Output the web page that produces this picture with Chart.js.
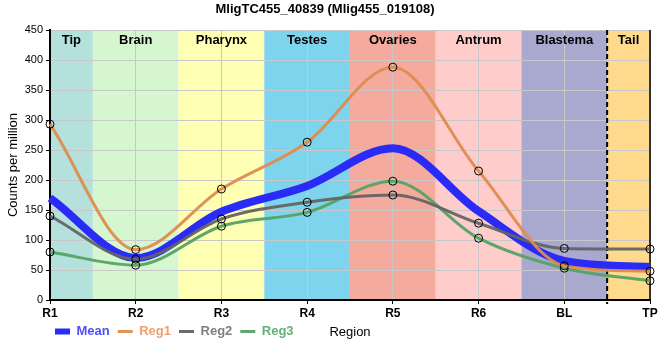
<!DOCTYPE html>
<html>
<head>
<meta charset="utf-8">
<script src="https://cdn.jsdelivr.net/npm/chart.js@4.4.1/dist/chart.umd.min.js"></script>
<style>
  html, body { margin: 0; padding: 0; background: #fff; }
</style>
</head>
<body>
<canvas id="myChart" width="660" height="360"></canvas>
<script>
/* DATOS DEL GRAFICO */
const regiones = ['R1', 'R2', 'R3', 'R4', 'R5', 'R6', 'BL', 'TP'];
const mean = [170, 70, 147, 190, 253, 148, 65, 55];
const reg1 = [293, 84, 185, 263, 388, 215, 57, 48];
const reg2 = [140, 68, 135, 163, 175, 128, 86, 85];
const reg3 = [80, 58, 123, 146, 198, 103, 53, 32];

/* BANDAS DE TEJIDO */
const tejidos = ['Tip', 'Brain', 'Pharynx', 'Testes', 'Ovaries', 'Antrum', 'Blastema', 'Tail'];
const tejidosColor = ['#b4e1dc', '#d6f6d0', '#ffffb4', '#7ed4ec', '#f5aa9e', '#ffcccc', '#a9a8ce', '#ffda8c'];

const legendColors = ['#4d4dff', '#eea06c', '#808080', '#62b07a'];

Chart.defaults.font.family = '"Liberation Sans", Arial, sans-serif';
Chart.defaults.color = '#000';

const bandas = {
  id: 'bandas',
  afterLayout(chart) {
    // subir la leyenda a la misma fila que el titulo del eje x
    chart.legend.top -= 7;
    chart.legend.bottom -= 7;
    chart.legend.left -= 3;
  },
  beforeDraw(chart) {
    const { ctx, chartArea } = chart;
    const x = chart.scales.x;
    ctx.save();
    tejidos.forEach((t, i) => {
      const x0 = x.getPixelForValue(Math.max(i - 0.5, 0));
      const x1 = x.getPixelForValue(Math.min(i + 0.5, regiones.length - 1));
      ctx.fillStyle = tejidosColor[i];
      ctx.fillRect(x0, chartArea.top, x1 - x0, chartArea.bottom - chartArea.top);
    });
    ctx.restore();
  },
  beforeDatasetsDraw(chart) {
    const { ctx, chartArea } = chart;
    const x = chart.scales.x;
    ctx.save();
    // etiquetas de las bandas
    ctx.font = 'bold 13px "Liberation Sans", Arial, sans-serif';
    ctx.fillStyle = '#000';
    ctx.textAlign = 'center';
    ctx.textBaseline = 'middle';
    tejidos.forEach((t, i) => {
      const x0 = x.getPixelForValue(Math.max(i - 0.5, 0));
      const x1 = x.getPixelForValue(Math.min(i + 0.5, regiones.length - 1));
      ctx.fillText(t, (x0 + x1) / 2, chartArea.top + 10);
    });
    // linea punteada antes de la cola
    const xd = x.getPixelForValue(regiones.length - 1.5);
    ctx.strokeStyle = '#000';
    ctx.lineWidth = 2;
    ctx.setLineDash([5, 3]);
    ctx.beginPath();
    ctx.moveTo(xd, chartArea.top);
    ctx.lineTo(xd, chartArea.bottom + 4);
    ctx.stroke();
    // borde derecho
    ctx.setLineDash([]);
    ctx.lineWidth = 1.5;
    ctx.beginPath();
    ctx.moveTo(chartArea.right, chartArea.top);
    ctx.lineTo(chartArea.right, chartArea.bottom);
    ctx.stroke();
    ctx.restore();
  },
  afterDraw(chart) {
    const { ctx, chartArea } = chart;
    ctx.save();
    ctx.font = '13px "Liberation Sans", Arial, sans-serif';
    ctx.fillStyle = '#000';
    ctx.textAlign = 'center';
    ctx.textBaseline = 'middle';
    ctx.fillText('Region', (chartArea.left + chartArea.right) / 2, 332);
    ctx.restore();
  }
};

const punto = { pointRadius: 4, pointBorderWidth: 1, pointBorderColor: '#000', pointBackgroundColor: 'rgba(0,0,0,0)' };

const ctx = document.getElementById('myChart');
const dataset = {
  labels: regiones,
  datasets: [
    { label: 'Mean', data: mean, borderColor: '#2b2bf7', borderWidth: 8, pointRadius: 0, order: 10 },
    { label: 'Reg1', data: reg1, borderColor: 'rgba(222,140,78,0.95)', borderWidth: 3, order: 1, ...punto },
    { label: 'Reg2', data: reg2, borderColor: 'rgba(100,100,100,0.95)', borderWidth: 3, order: 2, ...punto },
    { label: 'Reg3', data: reg3, borderColor: 'rgba(86,162,100,0.95)', borderWidth: 3, order: 3, ...punto }
  ]
};

const config = {
  type: 'line',
  data: dataset,
  options: {
    responsive: false,
    animation: false,
    layout: { padding: { left: 0, right: 10, bottom: 5 } },
    elements: {
      line: { cubicInterpolationMode: 'monotone', fill: false }
    },
    scales: {
      x: {
        offset: false,
        grid: { color: '#c8c8c8', tickColor: '#000', tickLength: 4 },
        border: { color: '#000', width: 2 },
        ticks: { font: { size: 12, weight: 'bold' }, color: '#000', padding: 2, maxRotation: 0, autoSkip: false },
        afterFit: (s) => { s.height = 24; }
      },
      y: {
        min: 0,
        max: 450,
        grid: { color: '#c8c8c8', tickColor: '#000', tickLength: 4 },
        border: { color: '#000', width: 2 },
        ticks: { stepSize: 50, font: { size: 11 }, color: '#000', padding: 3 },
        title: { display: true, text: 'Counts per million', font: { size: 13 }, color: '#000', padding: { top: 6, bottom: 0 } },
        afterFit: (s) => { s.width = 50; }
      }
    },
    plugins: {
      title: {
        display: true,
        text: 'MligTC455_40839 (Mlig455_019108)',
        font: { size: 13, weight: 'bold' },
        color: '#000',
        padding: { top: 2, bottom: 12.4 }
      },
      legend: {
        position: 'bottom',
        align: 'start',
        fullSize: false,
        labels: {
          usePointStyle: true,
          pointStyleWidth: 15,
          boxHeight: 6,
          padding: 8,
          font: { size: 13, weight: 'bold' },
          generateLabels: (chart) => chart.data.datasets.map((ds, i) => ({
            text: ds.label,
            fillStyle: ds.borderColor,
            strokeStyle: ds.borderColor,
            lineWidth: i === 0 ? 0 : 3,
            pointStyle: i === 0 ? 'rect' : 'line',
            fontColor: legendColors[i],
            datasetIndex: i,
            hidden: false
          }))
        }
      },
      tooltip: { enabled: false }
    }
  },
  plugins: [bandas]
};
const chart = new Chart(ctx, config);
</script>
</body>
</html>
